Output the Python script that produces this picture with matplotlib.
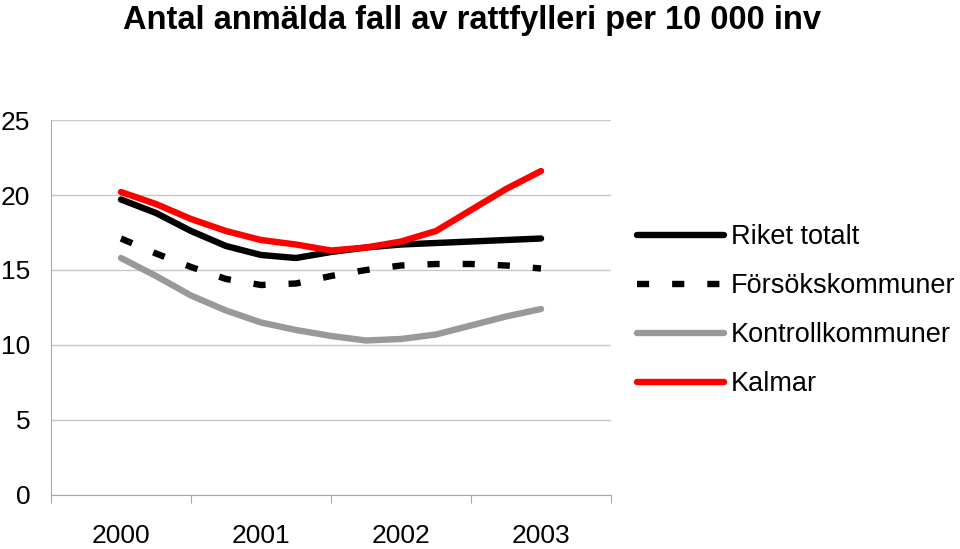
import matplotlib
matplotlib.use("Agg")
import matplotlib.pyplot as plt
from matplotlib import font_manager
import numpy as np

# quarterly readings, 2000 .. 2003
years = ["2000", "2001", "2002", "2003"]
quarters = [0, 0.25, 0.5, 0.75, 1, 1.25, 1.5, 1.75, 2, 2.25, 2.5, 2.75, 3]

riket = [19.7, 18.8, 17.6, 16.6, 16.0, 15.8, 16.2, 16.5, 16.7, 16.8, 16.9, 17.0, 17.1]
forsok = [17.1, 16.1, 15.2, 14.4, 14.0, 14.1, 14.6, 15.0, 15.3, 15.4, 15.4, 15.3, 15.1]
kontroll = [15.8, 14.6, 13.3, 12.3, 11.5, 11.0, 10.6, 10.3, 10.4, 10.7, 11.3, 11.9, 12.4]
kalmar = [20.2, 19.4, 18.4, 17.6, 17.0, 16.7, 16.3, 16.5, 16.9, 17.6, 19.0, 20.4, 21.6]

labels = ["Riket totalt", "Försökskommuner", "Kontrollkommuner", "Kalmar"]

plt.rcParams['font.family'] = ['Liberation Sans', 'DejaVu Sans']

# the tick labels in the original are a narrow face; use one if it is there
names = {f.name for f in font_manager.fontManager.ttflist}
if 'Liberation Sans Narrow' in names:
    tick_font, tick_size = ['Liberation Sans Narrow', 'DejaVu Sans'], 22
else:
    tick_font, tick_size = ['Liberation Sans', 'DejaVu Sans'], 19

fig = plt.figure(figsize=(9.6, 5.49), dpi=100)
ax = fig.add_axes([0.0531, 0.0984, 0.5834, 0.683])

lw = 4.6
ax.plot(quarters, riket, color="black", lw=lw, solid_capstyle="round",
        solid_joinstyle="round", label=labels[0])
ax.plot(quarters, forsok, color="black", lw=lw, linestyle=(0, (1.9, 3.6)),
        dash_capstyle="butt", label=labels[1])
ax.plot(quarters, kontroll, color="#999999", lw=lw, solid_capstyle="round",
        solid_joinstyle="round", label=labels[2])
ax.plot(quarters, kalmar, color="#ff0000", lw=lw, solid_capstyle="round",
        solid_joinstyle="round", label=labels[3])

ax.set_xlim(-0.5, 3.5)
ax.set_ylim(0, 25)
ax.set_yticks(np.arange(0, 26, 5))
ax.yaxis.grid(True, color="#c8c8c8", lw=1)
ax.set_axisbelow(True)

# category boundaries get tick marks, the year labels sit in the middle
ax.set_xticks([-0.5, 0.5, 1.5, 2.5, 3.5])
ax.set_xticklabels([])
ax.set_xticks(range(len(years)), minor=True)
ax.set_xticklabels(years, minor=True, family=tick_font, fontsize=tick_size)
ax.tick_params(axis="x", which="major", length=6, color="#aaaaaa", direction="out")
ax.tick_params(axis="x", which="minor", length=0, pad=21)
ax.tick_params(axis="y", length=0, pad=15)
for t in ax.get_yticklabels():
    t.set_family(tick_font)
    t.set_fontsize(tick_size)

for s in ["top", "right"]:
    ax.spines[s].set_visible(False)
ax.spines["left"].set_color("#aaaaaa")
ax.spines["bottom"].set_color("#aaaaaa")

fig.text(0.128, 0.962, "Antal anmälda fall av rattfylleri per 10 000 inv",
         fontsize=23.5, fontweight="bold", va="center", ha="left")

leg = ax.legend(loc="upper left", bbox_to_anchor=(0.664, 0.592),
                bbox_transform=fig.transFigure, frameon=False, fontsize=19.5,
                handlelength=3.2, handletextpad=0.25, labelspacing=0.85,
                borderpad=0, borderaxespad=0)

fig.savefig("out.png", dpi=100)
